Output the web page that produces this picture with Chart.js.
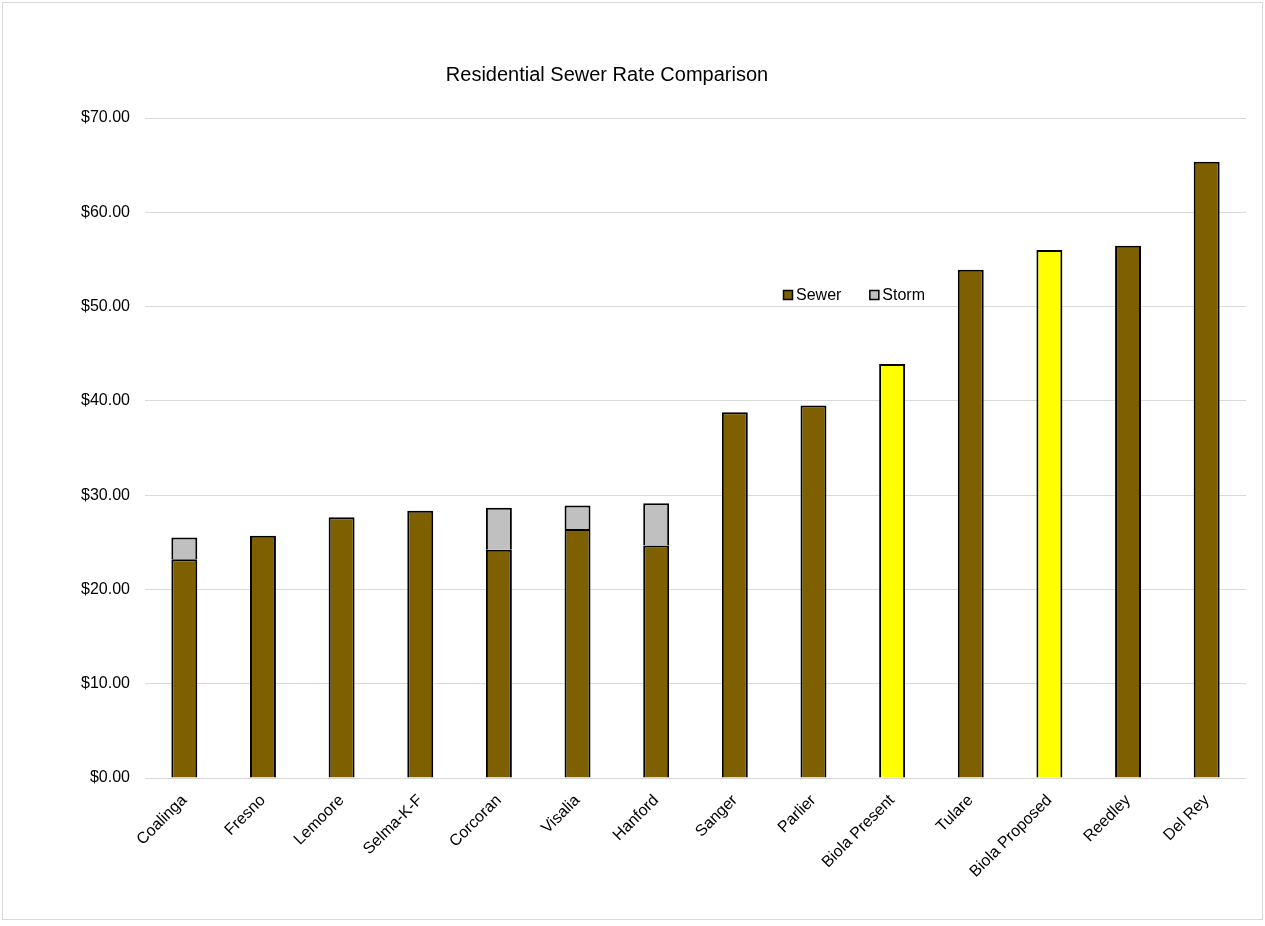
<!DOCTYPE html>
<html>
<head>
<meta charset="utf-8">
<title>Residential Sewer Rate Comparison</title>
<script src="https://cdn.jsdelivr.net/npm/chart.js@4.4.1/dist/chart.umd.min.js"></script>
<style>
  body { margin: 0; background: #fff; }
  canvas { display: block; }
</style>
</head>
<body>
<canvas id="rateChart" width="1265" height="926"></canvas>
<script>
// values, $ per month
const cities = ['Coalinga', 'Fresno', 'Lemoore', 'Selma-K-F', 'Corcoran', 'Visalia', 'Hanford',
  'Sanger', 'Parlier', 'Biola Present', 'Tulare', 'Biola Proposed', 'Reedley', 'Del Rey'];
const sewerRates = [23.2, 25.7, 27.65, 28.35, 24.2, 26.4, 24.65, 38.8, 39.5, 43.9, 53.9, 56.0, 56.45, 65.35];
const stormRates = [2.3, null, null, null, 4.45, 2.5, 4.5, null, null, null, null, null, null, null];
const highlighted = ['Biola Present', 'Biola Proposed'];
const yMax = 70;
const yStep = 10;

const chartTitle = 'Residential Sewer Rate Comparison';
const sewerColor = '#7F6000';
const highlightColor = '#FFFF00';
const stormColor = '#C0C0C0';
const gridColor = '#D9D9D9';
const fontFamily = '"Liberation Sans", Arial, sans-serif';

Chart.defaults.font.family = fontFamily;
Chart.defaults.font.size = 16;
Chart.defaults.color = '#000';

const sewerFill = cities.map(c => highlighted.includes(c) ? highlightColor : sewerColor);

// title, frame and the small legend inside the plot
const extras = {
  id: 'extras',
  beforeDraw(chart) {
    const ctx = chart.ctx;
    ctx.save();
    ctx.fillStyle = '#fff';
    ctx.fillRect(0, 0, chart.width, chart.height);
    ctx.strokeStyle = gridColor;
    ctx.lineWidth = 1;
    ctx.strokeRect(2.5, 2.5, chart.width - 5, chart.height - 9);
    ctx.restore();
  },
  afterDraw(chart) {
    const ctx = chart.ctx;
    ctx.save();
    ctx.fillStyle = '#000';
    ctx.font = '20px ' + fontFamily;
    ctx.textAlign = 'center';
    ctx.textBaseline = 'middle';
    ctx.fillText(chartTitle, 607, 75);

    ctx.font = '16px ' + fontFamily;
    ctx.textAlign = 'left';
    let x = 783;
    const y = 295;
    chart.data.datasets.forEach(ds => {
      ctx.fillStyle = ds.legendColor;
      ctx.fillRect(x + 0.5, y - 4.5, 9, 9);
      ctx.strokeStyle = '#000';
      ctx.lineWidth = 1.5;
      ctx.strokeRect(x + 0.5, y - 4.5, 9, 9);
      ctx.fillStyle = '#000';
      ctx.fillText(ds.label, x + 13, y + 1);
      x += 13 + ctx.measureText(ds.label).width + 28;
    });
    ctx.restore();
  }
};

new Chart(document.getElementById('rateChart'), {
  type: 'bar',
  data: {
    labels: cities,
    datasets: [
      {
        label: 'Sewer',
        data: sewerRates,
        backgroundColor: sewerFill,
        legendColor: sewerColor,
        borderColor: '#000',
        borderWidth: 2
      },
      {
        label: 'Storm',
        data: stormRates,
        backgroundColor: stormColor,
        legendColor: stormColor,
        borderColor: '#000',
        borderWidth: 2
      }
    ]
  },
  options: {
    responsive: false,
    animation: false,
    layout: { padding: { top: 118, right: 19, left: 0, bottom: 0 } },
    datasets: {
      bar: { barPercentage: 0.33, categoryPercentage: 1 }
    },
    plugins: {
      legend: { display: false },
      title: { display: false },
      tooltip: { enabled: false }
    },
    scales: {
      x: {
        stacked: true,
        grid: { display: false, drawTicks: false },
        border: { display: false },
        ticks: { autoSkip: false, minRotation: 45, maxRotation: 45, padding: 13 },
        afterFit(scale) { scale.height = 148; }
      },
      y: {
        stacked: true,
        min: 0,
        max: yMax,
        grid: { color: gridColor, lineWidth: 1, drawTicks: false },
        border: { display: false },
        ticks: {
          stepSize: yStep,
          padding: 15,
          callback: v => '$' + v.toFixed(2)
        },
        afterFit(scale) { scale.width = 145; }
      }
    }
  },
  plugins: [extras]
});
</script>
</body>
</html>
